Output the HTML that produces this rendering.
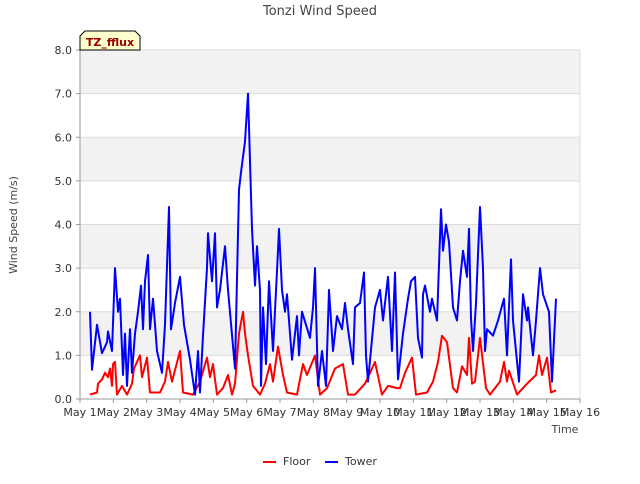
<!DOCTYPE html>
<html><head><meta charset="utf-8"><style>
body{margin:0;background:#fff;font-family:"DejaVu Sans","Liberation Sans",sans-serif;}
svg text{font-family:"DejaVu Sans","Liberation Sans",sans-serif;}
</style></head><body>
<svg id="chart" width="640" height="480" viewBox="0 0 640 480" xmlns="http://www.w3.org/2000/svg">
<text x="320" y="15" text-anchor="middle" font-size="13" fill="#444">Tonzi Wind Speed</text>
<g id="bands"></g>
<g id="grid"></g>
<g id="axes"></g>
<g id="series"></g>
<text transform="translate(17,225) rotate(-90)" text-anchor="middle" font-size="11" fill="#444">Wind Speed (m/s)</text>
<text x="565" y="433" text-anchor="middle" font-size="11" fill="#444">Time</text>
<g>
<path d="M80,50 L80,36 L85,31 L135,31 L140,36 L140,50 Z" fill="#ffffcc" stroke="#000" stroke-width="1"/>
<text x="110" y="46" text-anchor="middle" font-size="11" font-weight="bold" fill="#990000">TZ_fflux</text>
</g>
<g>
<g><line x1="263" y1="462" x2="276" y2="462" stroke="#ff0000" stroke-width="2"/><text x="283" y="465" font-size="11" fill="#333">Floor</text></g>
<g><line x1="325" y1="462" x2="338" y2="462" stroke="#0000ff" stroke-width="2"/><text x="345" y="465" font-size="11" fill="#333">Tower</text></g>
</g>
</svg>
<script>
const xTickLabels=["May 1","May 2","May 3","May 4","May 5","May 6","May 7","May 8","May 9","May 10","May 11","May 12","May 13","May 14","May 15","May 16"];
const yTickLabels=["0.0","1.0","2.0","3.0","4.0","5.0","6.0","7.0","8.0"];
const towerDays=[1.30,1.36,1.51,1.66,1.81,1.84,1.96,2.05,2.14,2.20,2.29,2.35,2.41,2.50,2.56,2.65,2.74,2.83,2.89,2.95,3.04,3.10,3.19,3.31,3.46,3.55,3.67,3.73,3.85,4.00,4.12,4.30,4.45,4.54,4.60,4.69,4.81,4.84,4.96,5.05,5.11,5.20,5.35,5.44,5.65,5.77,5.83,5.95,6.04,6.16,6.25,6.31,6.40,6.43,6.49,6.58,6.67,6.79,6.94,6.97,7.06,7.15,7.21,7.36,7.51,7.57,7.66,7.90,7.99,8.05,8.14,8.26,8.38,8.47,8.59,8.71,8.86,8.95,9.04,9.19,9.25,9.40,9.52,9.58,9.64,9.85,10.00,10.09,10.24,10.36,10.45,10.54,10.69,10.84,10.93,11.05,11.14,11.26,11.29,11.35,11.50,11.56,11.71,11.83,11.89,11.98,12.07,12.19,12.31,12.40,12.49,12.61,12.67,12.73,12.79,12.88,13.00,13.09,13.15,13.21,13.39,13.54,13.72,13.81,13.93,13.99,14.17,14.29,14.41,14.44,14.59,14.68,14.80,14.89,15.07,15.16,15.28];
const towerValues=[2.0,0.67,1.7,1.05,1.3,1.55,1.1,3.0,2.0,2.3,0.55,1.5,0.3,1.6,0.6,1.5,2.0,2.6,1.6,2.7,3.3,1.6,2.3,1.1,0.6,1.7,4.4,1.6,2.2,2.8,1.7,0.9,0.1,1.1,0.15,1.45,3.0,3.8,2.7,3.8,2.1,2.5,3.5,2.5,0.7,4.8,5.2,5.9,7.0,3.9,2.6,3.5,2.5,0.3,2.1,0.8,2.7,1.1,3.4,3.9,2.5,2.0,2.4,0.9,1.9,1.0,2.0,1.4,2.1,3.0,0.3,1.1,0.3,2.5,1.1,1.9,1.6,2.2,1.6,0.8,2.1,2.2,2.9,1.0,0.4,2.1,2.5,1.8,2.8,1.1,2.9,0.45,1.5,2.3,2.7,2.8,1.4,0.95,2.4,2.6,2.0,2.3,1.8,4.35,3.4,4.0,3.6,2.1,1.8,2.7,3.4,2.8,3.9,1.85,1.1,2.2,4.4,3.0,1.1,1.6,1.45,1.8,2.3,1.0,3.2,1.8,0.4,2.4,1.8,2.1,1.0,1.8,3.0,2.4,2.0,0.4,2.3];
const floorDays=[1.30,1.51,1.54,1.66,1.75,1.84,1.90,1.96,1.99,2.05,2.11,2.26,2.41,2.56,2.62,2.80,2.86,3.01,3.10,3.40,3.55,3.64,3.76,4.00,4.09,4.39,4.60,4.81,4.90,4.99,5.11,5.29,5.44,5.56,5.65,5.77,5.89,5.95,6.04,6.19,6.40,6.55,6.70,6.79,6.94,7.09,7.21,7.51,7.69,7.81,8.05,8.20,8.41,8.65,8.89,9.04,9.25,9.55,9.85,10.06,10.24,10.51,10.60,10.75,10.96,11.08,11.41,11.59,11.74,11.86,12.01,12.19,12.31,12.46,12.61,12.67,12.76,12.85,13.00,13.18,13.30,13.60,13.72,13.81,13.87,14.11,14.41,14.68,14.77,14.86,15.01,15.13,15.28];
const floorValues=[0.1,0.15,0.35,0.45,0.6,0.5,0.7,0.3,0.8,0.85,0.1,0.3,0.1,0.35,0.7,1.0,0.5,0.95,0.15,0.15,0.4,0.85,0.4,1.1,0.15,0.1,0.4,0.95,0.5,0.8,0.1,0.25,0.55,0.1,0.35,1.5,2.0,1.5,1.0,0.3,0.1,0.35,0.8,0.4,1.2,0.55,0.15,0.1,0.8,0.55,1.0,0.1,0.25,0.7,0.8,0.1,0.1,0.35,0.85,0.1,0.3,0.25,0.25,0.6,0.95,0.1,0.15,0.4,0.85,1.45,1.3,0.25,0.15,0.75,0.55,1.4,0.35,0.4,1.4,0.25,0.1,0.4,0.85,0.4,0.65,0.1,0.35,0.55,1.0,0.55,0.95,0.15,0.2];

const NS="http://www.w3.org/2000/svg";
const L=80,R=580,T=50,B=399;
const xS=d=>L+(d-1)*(R-L)/15;
const yS=v=>B-v*(B-T)/8;
function mk(tag,attrs,parent){const e=document.createElementNS(NS,tag);for(const k in attrs)e.setAttribute(k,attrs[k]);document.getElementById(parent).appendChild(e);return e;}
for(let i=0;i<8;i++){
  if(i%2===1){const r=mk('rect',{x:L,y:yS(i+1),width:R-L,height:yS(i)-yS(i+1),fill:'#f2f2f2'},'bands');
  
  }
}
yTickLabels.forEach((lab,i)=>{
  const y=yS(i);
  const g=mk('line',{x1:L,x2:R,y1:y,y2:y,stroke:'#dcdcdc','stroke-width':1},'grid');
  
  
  const tk=mk('line',{x1:L-4,x2:L,y1:y,y2:y,stroke:'#999'},'axes');
  
  
  const t=mk('text',{x:L-8,y:y+4,'text-anchor':'end','font-size':11,fill:'#333'},'axes');
  t.textContent=lab;
  
  
});
mk('line',{x1:R,x2:R,y1:T,y2:B,stroke:'#dcdcdc'},'grid');
xTickLabels.forEach((lab,i)=>{
  const x=xS(i+1);
  const tk=mk('line',{x1:x,x2:x,y1:B,y2:B+4,stroke:'#999'},'axes');
  
  
  const t=mk('text',{x:x,y:B+17,'text-anchor':'middle','font-size':11,fill:'#333'},'axes');
  t.textContent=lab;
  
  
});
const ax=mk('path',{d:`M${L},${T}V${B}H${R}`,fill:'none',stroke:'#999'},'axes');


function line(days,vals,color,name){
  const d=days.map((t,i)=>(i?'L':'M')+xS(t).toFixed(1)+','+yS(vals[i]).toFixed(1)).join('');
  const p=mk('path',{d:d,fill:'none',stroke:color,'stroke-width':2,'stroke-linejoin':'round'},'series');
  
  
}
line(floorDays,floorValues,'#ff0000','floor-line');
line(towerDays,towerValues,'#0000ff','tower-line');
</script>
</body></html>
